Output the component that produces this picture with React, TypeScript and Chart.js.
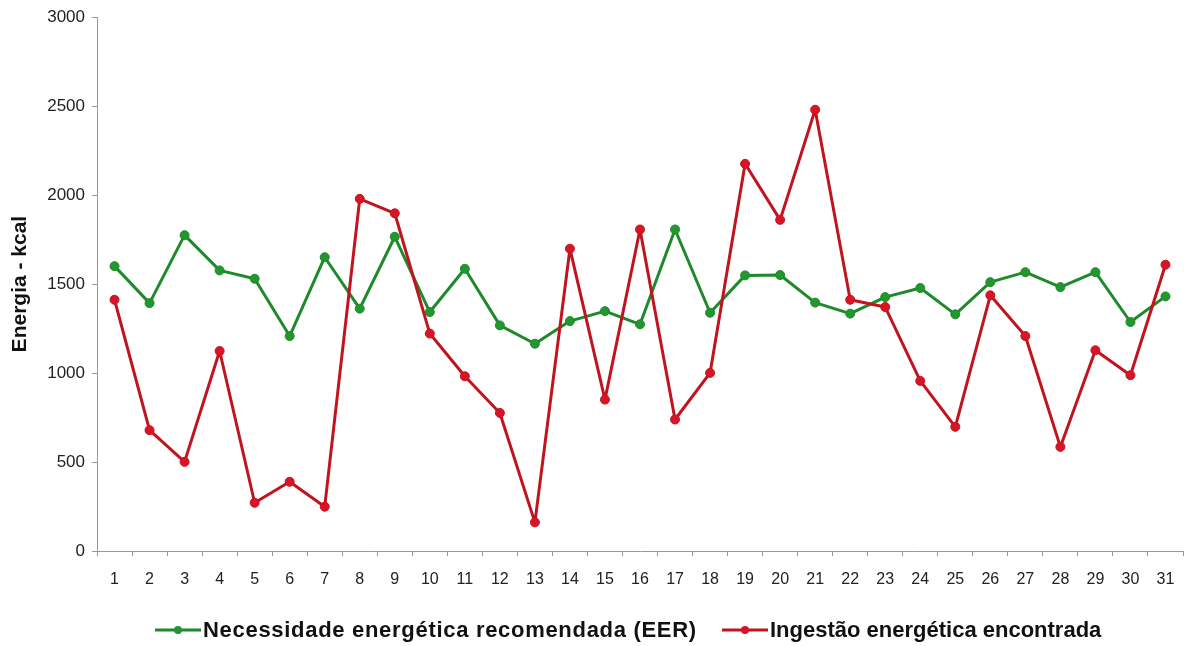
import React, { useEffect, useRef } from "react";
import { Chart, registerables } from "chart.js";

Chart.register(...registerables);

// Dias avaliados (1 a 31)
const days: string[] = [
  "1", "2", "3", "4", "5", "6", "7", "8", "9", "10", "11", "12", "13", "14", "15", "16",
  "17", "18", "19", "20", "21", "22", "23", "24", "25", "26", "27", "28", "29", "30", "31",
];

// Necessidade energética recomendada (EER), kcal
const eer: number[] = [
  1601, 1393, 1775, 1577, 1530, 1208, 1651, 1362, 1766, 1343, 1586, 1268, 1165, 1292, 1348, 1274,
  1807, 1339, 1549, 1551, 1396, 1334, 1427, 1478, 1330, 1511, 1567, 1483, 1567, 1287, 1431,
];

// Ingestão energética encontrada, kcal
const ingestao: number[] = [
  1412, 679, 501, 1124, 271, 389, 249, 1979, 1898, 1222, 982, 776, 161, 1699, 851, 1807,
  739, 1001, 2176, 1861, 2480, 1412, 1371, 956, 698, 1437, 1208, 585, 1128, 988, 1609,
];

const yTicks: number[] = [0, 500, 1000, 1500, 2000, 2500, 3000];

const seriesNames: string[] = [
  "Necessidade energética recomendada (EER)",
  "Ingestão energética encontrada",
];

const GREEN = "#1f8a2c";
const GREEN_PT = "#22962f";
const RED = "#c0141f";
const RED_PT = "#d81426";
const FONT = "'Liberation Sans', Arial, Helvetica, sans-serif";

// Legend drawn under the x axis: a line-with-marker swatch followed by the series name
const bottomLegend = {
  id: "bottomLegend",
  afterDraw(chart: any) {
    const ctx = chart.ctx as CanvasRenderingContext2D;
    const y = 630;
    const items = [
      { x: 155, text: seriesNames[0], line: GREEN, dot: GREEN_PT, spacing: "0.7px" },
      { x: 722, text: seriesNames[1], line: RED, dot: RED_PT, spacing: "0px" },
    ];
    ctx.save();
    for (const it of items) {
      ctx.strokeStyle = it.line;
      ctx.lineWidth = 3;
      ctx.beginPath();
      ctx.moveTo(it.x, y);
      ctx.lineTo(it.x + 46, y);
      ctx.stroke();
      ctx.fillStyle = it.dot;
      ctx.beginPath();
      ctx.arc(it.x + 23, y, 4, 0, Math.PI * 2);
      ctx.fill();
      ctx.fillStyle = "#111";
      ctx.font = `bold 22px ${FONT}`;
      ctx.textAlign = "left";
      ctx.textBaseline = "middle";
      (ctx as any).letterSpacing = it.spacing;
      ctx.fillText(it.text, it.x + 48, y + 1);
      (ctx as any).letterSpacing = "0px";
    }
    ctx.restore();
  },
};

export default function App() {
  const canvasRef = useRef<HTMLCanvasElement | null>(null);

  useEffect(() => {
    if (!canvasRef.current) return;

    const chart = new Chart(canvasRef.current, {
      type: "line",
      data: {
        labels: days,
        datasets: [
          {
            label: seriesNames[0],
            data: eer,
            borderColor: GREEN,
            backgroundColor: GREEN_PT,
            pointBackgroundColor: GREEN_PT,
            pointBorderColor: GREEN,
            borderWidth: 3,
            borderJoinStyle: "round",
            pointRadius: 4.5,
            pointBorderWidth: 1,
            tension: 0,
            order: 2,
          },
          {
            label: seriesNames[1],
            data: ingestao,
            borderColor: RED,
            backgroundColor: RED_PT,
            pointBackgroundColor: RED_PT,
            pointBorderColor: RED,
            borderWidth: 3,
            borderJoinStyle: "round",
            pointRadius: 4.5,
            pointBorderWidth: 1,
            tension: 0,
            order: 1,
          },
        ],
      },
      options: {
        animation: false,
        responsive: true,
        maintainAspectRatio: false,
        layout: { padding: { left: 0, right: 11, top: 16, bottom: 0 } },
        plugins: {
          tooltip: { enabled: false },
          legend: { display: false },
        },
        scales: {
          x: {
            offset: true,
            afterFit: (scale: any) => {
              scale.height = 95;
            },
            grid: {
              offset: true,
              drawOnChartArea: false,
              drawTicks: true,
              tickLength: 5,
              color: "#999",
            },
            border: { color: "#999", width: 1 },
            ticks: {
              color: "#222",
              padding: 14,
              maxRotation: 0,
              autoSkip: false,
              font: { family: FONT, size: 16 },
            },
          },
          y: {
            min: 0,
            max: 3000,
            afterFit: (scale: any) => {
              scale.width = 97;
            },
            afterBuildTicks: (scale: any) => {
              scale.ticks = yTicks.map((v) => ({ value: v }));
            },
            grid: {
              drawOnChartArea: false,
              drawTicks: true,
              tickLength: 5,
              color: "#999",
            },
            border: { color: "#999", width: 1 },
            ticks: {
              color: "#222",
              padding: 7,
              font: { family: FONT, size: 17 },
              callback: (v: any) => String(v),
            },
            title: {
              display: true,
              text: "Energia - kcal",
              color: "#111",
              padding: { top: 8, bottom: 0 },
              font: { family: FONT, size: 21, weight: "bold" },
            },
          },
        },
      },
      plugins: [bottomLegend],
    });
    return () => chart.destroy();
  }, []);

  return (
    <div
      style={{
        position: "absolute",
        left: 0,
        top: 0,
        width: 1194,
        height: 646,
        background: "#fff",
      }}
    >
      <canvas ref={canvasRef} />
    </div>
  );
}
